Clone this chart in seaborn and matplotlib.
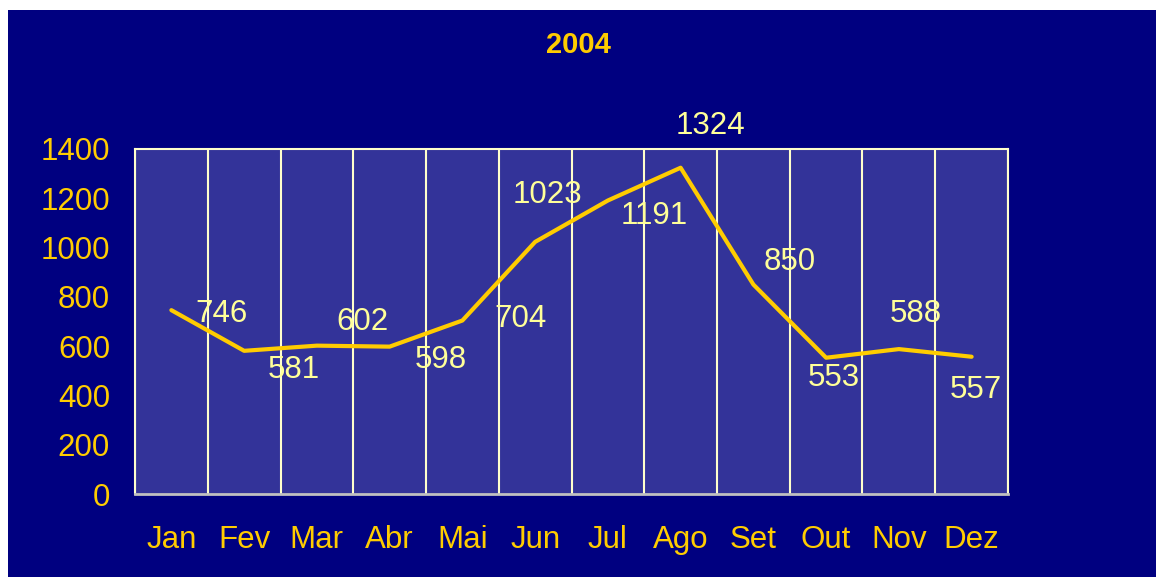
import numpy as np
import pandas as pd
import seaborn as sns
import matplotlib.pyplot as plt
from matplotlib.patches import Rectangle

sns.set_style('white')
plt.rcParams['font.family'] = ['Liberation Sans', 'DejaVu Sans']

months = ['Jan', 'Fev', 'Mar', 'Abr', 'Mai', 'Jun', 'Jul', 'Ago', 'Set', 'Out', 'Nov', 'Dez']
values = [746, 581, 602, 598, 704, 1023, 1191, 1324, 850, 553, 588, 557]
yticks = [0, 200, 400, 600, 800, 1000, 1200, 1400]
# label offsets in pixels (dx, dy)
offsets = [(50, -4), (50, -19), (46, 24), (51, -13), (58, 2), (12, 47),
           (46, -15), (30, 42), (36, 23), (8, -20), (17, 35), (4, -33)]

navy = '#000080'
plotbg = '#333399'
gold = '#FFCC00'
pale = '#FFFF99'
gridc = '#FFFFCC'

df = pd.DataFrame({'Mes': months, 'Valor': values})

fig = plt.figure(figsize=(11.56, 5.77), dpi=100)
fig.patch.set_facecolor('white')
fig.patches.append(Rectangle((8 / 1156, 0), 1 - 8 / 1156, 1 - 10 / 577,
                             transform=fig.transFigure, facecolor=navy,
                             edgecolor='none', zorder=-10))

ax = fig.add_axes([135 / 1156, 1 - 494 / 577, (1008 - 135) / 1156, (494 - 149) / 577])
ax.set_facecolor(plotbg)

x = np.arange(len(months))
sns.lineplot(x=x, y=df['Valor'], ax=ax, color=gold, linewidth=3, legend=False)

for i, (v, off) in enumerate(zip(values, offsets)):
    ax.annotate(str(v), (i, v), xytext=off, textcoords='offset pixels',
                ha='center', va='center', fontsize=22.5, color=pale)

ax.set_xlim(-0.5, len(months) - 0.5)
ax.set_ylim(0, 1400)
ax.set_xticks(x)
ax.set_xticklabels(months)
ax.set_xticks(np.arange(len(months) + 1) - 0.5, minor=True)
ax.set_yticks(yticks)
ax.grid(True, which='minor', axis='x', color=gridc, linewidth=1.5)
ax.grid(False, which='major')

ax.tick_params(axis='x', which='major', length=0, pad=22, labelsize=22.5, labelcolor=gold)
ax.tick_params(axis='x', which='minor', length=6, width=1.5, color=gridc, direction='out')
ax.tick_params(axis='y', length=6, width=1.5, color=gridc, direction='out',
               pad=12, labelsize=22.5, labelcolor=gold)

for side in ['left', 'top', 'right']:
    ax.spines[side].set_color(gridc)
    ax.spines[side].set_linewidth(1.5)
ax.spines['bottom'].set_color('#C0C0C0')
ax.spines['bottom'].set_linewidth(2)
ax.set_xlabel('')
ax.set_ylabel('')

fig.text(0.5, 1 - 45 / 577, '2004', ha='center', va='center', fontsize=21,
         fontweight='bold', color=gold)

fig.savefig('out.png', dpi=100, facecolor=fig.get_facecolor())
